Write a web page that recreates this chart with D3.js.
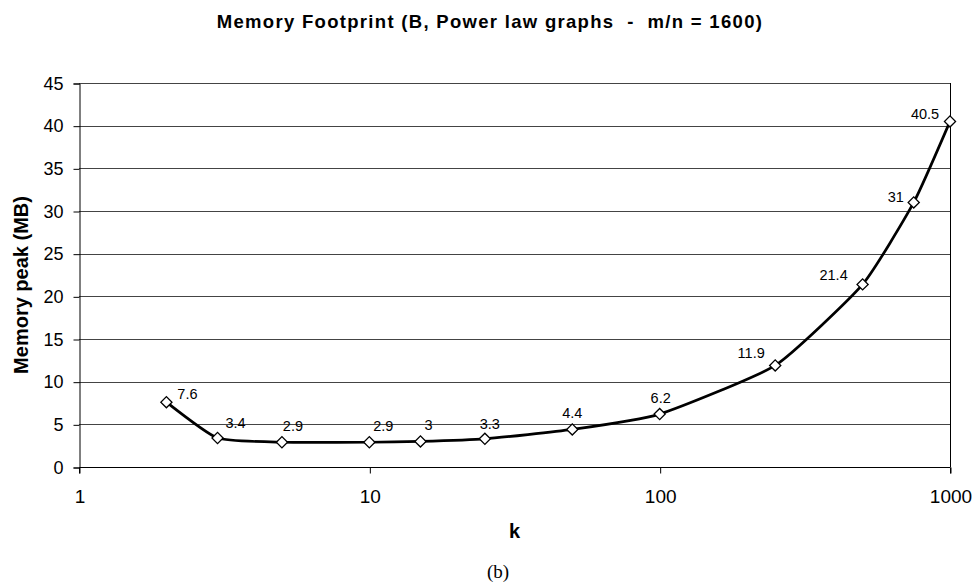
<!DOCTYPE html>
<html>
<head>
<meta charset="utf-8">
<script src="https://cdn.jsdelivr.net/npm/d3@7"></script>
<style>
  body { margin: 0; background: #fff; }
  svg { display: block; }
</style>
</head>
<body>
<svg width="977" height="585"></svg>
<script>
// Data
const kValues = [2, 3, 5, 10, 15, 25, 50, 100, 250, 500, 750, 1000];
const memoryMB = [7.6, 3.4, 2.9, 2.9, 3, 3.3, 4.4, 6.2, 11.9, 21.4, 31, 40.5];
const xTicks = [1, 10, 100, 1000];
const yTicks = [0, 5, 10, 15, 20, 25, 30, 35, 40, 45];
// where each value label sits relative to its marker
const labelDx = [21, 18, 11, 14, 8, 5, 0, 1, -24, -29, -18, -25];
const labelDy = [-7, -14, -15, -15, -15, -14, -15, -15, -11, -8, -4, -6];

const svg = d3.select('svg'),
  width = +svg.attr('width'),
  height = +svg.attr('height');

const plotLeft = 79, plotRight = 950, plotTop = 83, plotBottom = 467;

const x = d3.scaleLog().domain([1, 1000]).range([plotLeft, plotRight]);
const y = d3.scaleLinear().domain([0, 45]).range([plotBottom, plotTop]);

// title
svg.append('text')
  .attr('x', 490)
  .attr('y', 28)
  .attr('text-anchor', 'middle')
  .style('white-space', 'pre')
  .style('font-family', 'Liberation Sans, Arial, sans-serif')
  .style('font-weight', 'bold')
  .style('font-size', '18.5px')
  .style('letter-spacing', '1.3px')
  .text('Memory Footprint (B, Power law graphs  -  m/n = 1600)');

// gridlines
svg.append('g')
  .selectAll('line')
  .data(yTicks.filter(d => d > 0))
  .enter()
  .append('line')
  .attr('x1', plotLeft)
  .attr('x2', plotRight)
  .attr('y1', d => Math.round(y(d)) + 0.5)
  .attr('y2', d => Math.round(y(d)) + 0.5)
  .style('stroke', '#444')
  .style('stroke-width', 1);

// right border
svg.append('line')
  .attr('x1', plotRight + 0.5).attr('x2', plotRight + 0.5)
  .attr('y1', plotTop).attr('y2', plotBottom)
  .style('stroke', '#000');

// y axis
const yAxis = d3.axisLeft(y).tickValues(yTicks).tickSize(6).tickPadding(10);
const gy = svg.append('g').attr('transform', `translate(${plotLeft + 0.5},0.5)`).call(yAxis);
gy.selectAll('text')
  .style('font-family', 'Liberation Sans, Arial, sans-serif')
  .style('font-size', '18px')
  .attr('fill', '#000');
gy.selectAll('line, path').attr('stroke', '#000');

// x axis
const xAxis = d3.axisBottom(x).tickValues(xTicks).tickFormat(d3.format('d')).tickSize(6).tickPadding(16);
const gx = svg.append('g').attr('transform', `translate(0.5,${plotBottom + 0.5})`).call(xAxis);
gx.select('.domain').attr('d', `M${plotLeft},6V0H${plotRight}V6`);
gx.selectAll('text')
  .style('font-family', 'Liberation Sans, Arial, sans-serif')
  .style('font-size', '19px')
  .attr('fill', '#000');
gx.selectAll('line, path').attr('stroke', '#000');

// axis titles
svg.append('text')
  .attr('x', (plotLeft + plotRight) / 2)
  .attr('y', 538)
  .attr('text-anchor', 'middle')
  .style('font-family', 'Liberation Sans, Arial, sans-serif')
  .style('font-weight', 'bold')
  .style('font-size', '20px')
  .text('k');

svg.append('text')
  .attr('transform', 'translate(28,285) rotate(-90)')
  .attr('text-anchor', 'middle')
  .style('font-family', 'Liberation Sans, Arial, sans-serif')
  .style('font-weight', 'bold')
  .style('font-size', '20px')
  .text('Memory peak (MB)');

svg.append('text')
  .attr('x', 498)
  .attr('y', 578)
  .attr('text-anchor', 'middle')
  .style('font-family', 'Liberation Serif, serif')
  .style('font-size', '19px')
  .text('(b)');

// line
const points = kValues.map((k, i) => [x(k), y(memoryMB[i])]);
const line = d3.line().curve(d3.curveCardinal.tension(0.5));
svg.append('path')
  .attr('d', line(points))
  .style('fill', 'none')
  .style('stroke', '#000')
  .style('stroke-width', 2.7);

// markers
svg.append('g')
  .selectAll('path')
  .data(points)
  .enter()
  .append('path')
  .attr('d', d3.symbol().type(d3.symbolSquare).size(62))
  .attr('transform', d => `translate(${d[0]},${d[1]}) rotate(45)`)
  .style('fill', '#fff')
  .style('stroke', '#000')
  .style('stroke-width', 1.3);

// value labels
svg.append('g')
  .selectAll('text')
  .data(points)
  .enter()
  .append('text')
  .attr('x', (d, i) => d[0] + labelDx[i])
  .attr('y', (d, i) => d[1] + labelDy[i] + 4)
  .attr('text-anchor', 'middle')
  .style('font-family', 'Liberation Sans, Arial, sans-serif')
  .style('font-size', '14.5px')
  .text((d, i) => memoryMB[i]);
</script>
</body>
</html>
